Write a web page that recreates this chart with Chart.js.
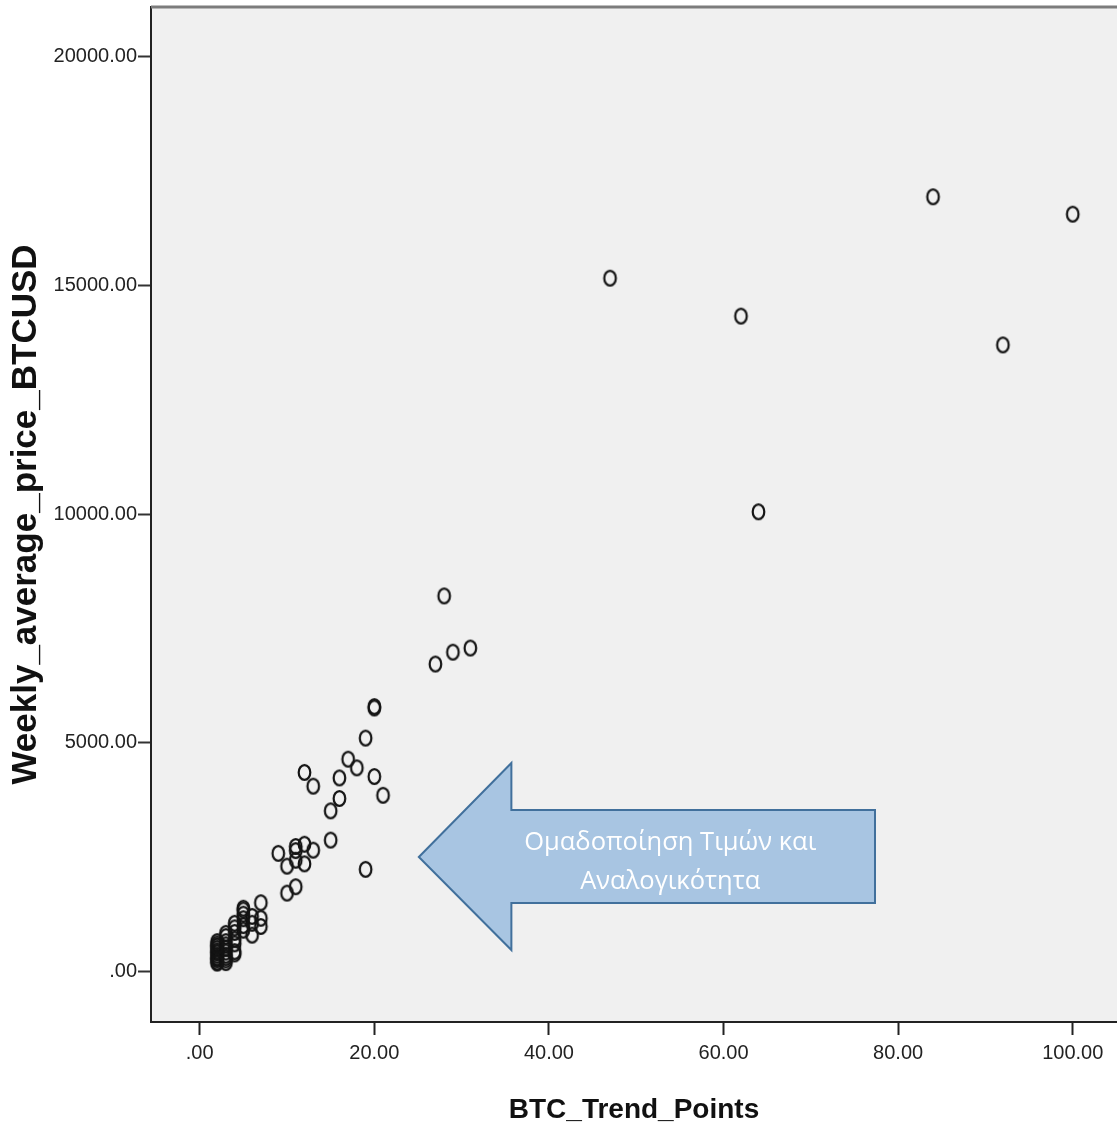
<!DOCTYPE html>
<html>
<head>
<meta charset="utf-8">
<script src="https://cdn.jsdelivr.net/npm/chart.js@4"></script>
<style>
  body { margin: 0; background: #fff; }
</style>
</head>
<body>
<canvas id="myChart" width="1117" height="1133"></canvas>
<script>
// BTC google trend points vs weekly average BTC price (USD)
const trendPoints = [
  84, 100, 47, 62, 92, 64, 28, 27, 29, 31,
  20, 20, 19, 17, 18, 20, 16, 12, 13, 21,
  16, 15, 15, 19, 9, 11, 11, 12, 13, 10,
  11, 12, 10, 11, 7,
  7, 7, 6, 6, 6, 5, 5, 5, 5, 5, 5,
  4, 4, 4, 4, 4, 4, 4,
  3, 3, 3, 3, 3, 3, 3, 3, 3, 3,
  2, 2, 2, 2, 2, 2, 2, 2, 2, 2, 2, 2, 2, 2,
];
const weeklyPrice = [
  16940, 16560, 15160, 14330, 13700, 10050, 8210, 6720, 6980, 7070,
  5790, 5760, 5100, 4640, 4450, 4260, 4230, 4350, 4050, 3850,
  3780, 3510, 2870, 2230, 2580, 2730, 2640, 2780, 2650, 2300,
  2430, 2350, 1710, 1850, 1500,
  1160, 980, 790, 1200, 1050, 1380, 1340, 1250, 1150, 1000, 900,
  1050, 950, 850, 700, 600, 430, 380,
  830, 760, 650, 580, 500, 420, 350, 300, 250, 190,
  650, 600, 560, 500, 450, 420, 400, 350, 300, 280, 250, 200, 180, 550,
];

const xTicks = [0, 20, 40, 60, 80, 100];
const yTicks = [0, 5000, 10000, 15000, 20000];

const xTitle = "BTC_Trend_Points";
const yTitle = "Weekly_average_price_BTCUSD";

// callout arrow, in data units
const calloutText = ["Ομαδοποίηση Τιμών και", "Αναλογικότητα"];
const callout = { tipX: 25.1, headX: 35.7, endX: 77.35, midY: 2500, headTop: 4556, headBottom: 466, shaftTop: 3528, shaftBottom: 1494, textX: 53.9, textY: 2400 };

function spssLabel(v) {
  return v === 0 ? ".00" : v.toFixed(2);
}

// hollow, slightly tall ring like the SPSS marker
const marker = document.createElement("canvas");
marker.width = 17;
marker.height = 21;
const mctx = marker.getContext("2d");
mctx.strokeStyle = "#141414";
mctx.lineWidth = 2.2;
mctx.beginPath();
mctx.ellipse(8.5, 10.5, 5.8, 7.4, 0, 0, Math.PI * 2);
mctx.stroke();

const tickFont = { family: "'Liberation Sans', Arial, sans-serif", size: 20 };

const plotBg = {
  id: "plotBg",
  beforeDraw(chart) {
    const { ctx, chartArea: a } = chart;
    ctx.save();
    ctx.fillStyle = "#f0f0f0";
    ctx.fillRect(a.left, a.top, a.right - a.left, a.bottom - a.top);
    ctx.restore();
  },
  afterDraw(chart) {
    const { ctx, chartArea: a, scales } = chart;
    // top frame line
    ctx.save();
    ctx.strokeStyle = "#7c7c7c";
    ctx.lineWidth = 3;
    ctx.beginPath();
    ctx.moveTo(a.left, a.top);
    ctx.lineTo(a.right, a.top);
    ctx.stroke();

    // callout arrow
    const x = scales.x, y = scales.y;
    ctx.beginPath();
    ctx.moveTo(x.getPixelForValue(callout.tipX), y.getPixelForValue(callout.midY));
    ctx.lineTo(x.getPixelForValue(callout.headX), y.getPixelForValue(callout.headTop));
    ctx.lineTo(x.getPixelForValue(callout.headX), y.getPixelForValue(callout.shaftTop));
    ctx.lineTo(x.getPixelForValue(callout.endX), y.getPixelForValue(callout.shaftTop));
    ctx.lineTo(x.getPixelForValue(callout.endX), y.getPixelForValue(callout.shaftBottom));
    ctx.lineTo(x.getPixelForValue(callout.headX), y.getPixelForValue(callout.shaftBottom));
    ctx.lineTo(x.getPixelForValue(callout.headX), y.getPixelForValue(callout.headBottom));
    ctx.closePath();
    ctx.fillStyle = "#a8c5e2";
    ctx.fill();
    ctx.strokeStyle = "#41709c";
    ctx.lineWidth = 2;
    ctx.stroke();

    ctx.fillStyle = "#fff";
    ctx.font = "25.5px 'Open Sans', 'Noto Sans', sans-serif";
    ctx.textAlign = "center";
    ctx.textBaseline = "middle";
    const tx = x.getPixelForValue(callout.textX);
    const ty = y.getPixelForValue(callout.textY);
    ctx.fillText(calloutText[0], tx, ty - 19);
    ctx.fillText(calloutText[1], tx, ty + 20);
    ctx.restore();
  },
};

const ctx = document.getElementById("myChart").getContext("2d");
new Chart(ctx, {
  type: "scatter",
  data: {
    datasets: [
      {
        label: yTitle,
        data: trendPoints.map((t, i) => ({ x: t, y: weeklyPrice[i] })),
        pointStyle: marker,
        pointRadius: 7,
      },
    ],
  },
  options: {
    responsive: false,
    animation: false,
    devicePixelRatio: 1,
    layout: { autoPadding: false, padding: { top: 7, right: 0, left: 0, bottom: 0 } },
    plugins: {
      legend: { display: false },
      tooltip: { enabled: false },
    },
    scales: {
      x: {
        type: "linear",
        min: -5.58,
        max: 105.07,
        afterBuildTicks: (scale) => {
          scale.ticks = xTicks.map((v) => ({ value: v }));
        },
        afterFit: (scale) => {
          scale.height = 111;
          scale.paddingLeft = 0;
          scale.paddingRight = 0;
        },
        grid: { drawOnChartArea: false, tickLength: 13, color: "#222", tickWidth: 2 },
        border: { color: "#222", width: 2 },
        ticks: {
          color: "#222",
          font: tickFont,
          padding: 6,
          maxRotation: 0,
          callback: (v) => spssLabel(v),
        },
        title: {
          display: true,
          text: xTitle,
          color: "#111",
          font: { family: "'Liberation Sans', Arial, sans-serif", size: 28, weight: "bold", lineHeight: 1 },
          padding: { top: 0, bottom: 9 },
        },
      },
      y: {
        type: "linear",
        min: -1109,
        max: 21091,
        afterBuildTicks: (scale) => {
          scale.ticks = yTicks.map((v) => ({ value: v }));
        },
        afterFit: (scale) => {
          scale.width = 151;
          scale.paddingTop = 0;
          scale.paddingBottom = 0;
        },
        grid: { drawOnChartArea: false, tickLength: 13, color: "#333", tickWidth: 2 },
        border: { color: "#222", width: 2 },
        ticks: {
          color: "#222",
          font: tickFont,
          padding: 1,
          callback: (v) => spssLabel(v),
        },
        title: {
          display: true,
          text: yTitle,
          color: "#111",
          font: { family: "'Liberation Sans', Arial, sans-serif", size: 35, weight: "bold", lineHeight: 1 },
          padding: { top: 9, bottom: 0 },
        },
      },
    },
  },
  plugins: [plotBg],
});
</script>
</body>
</html>
